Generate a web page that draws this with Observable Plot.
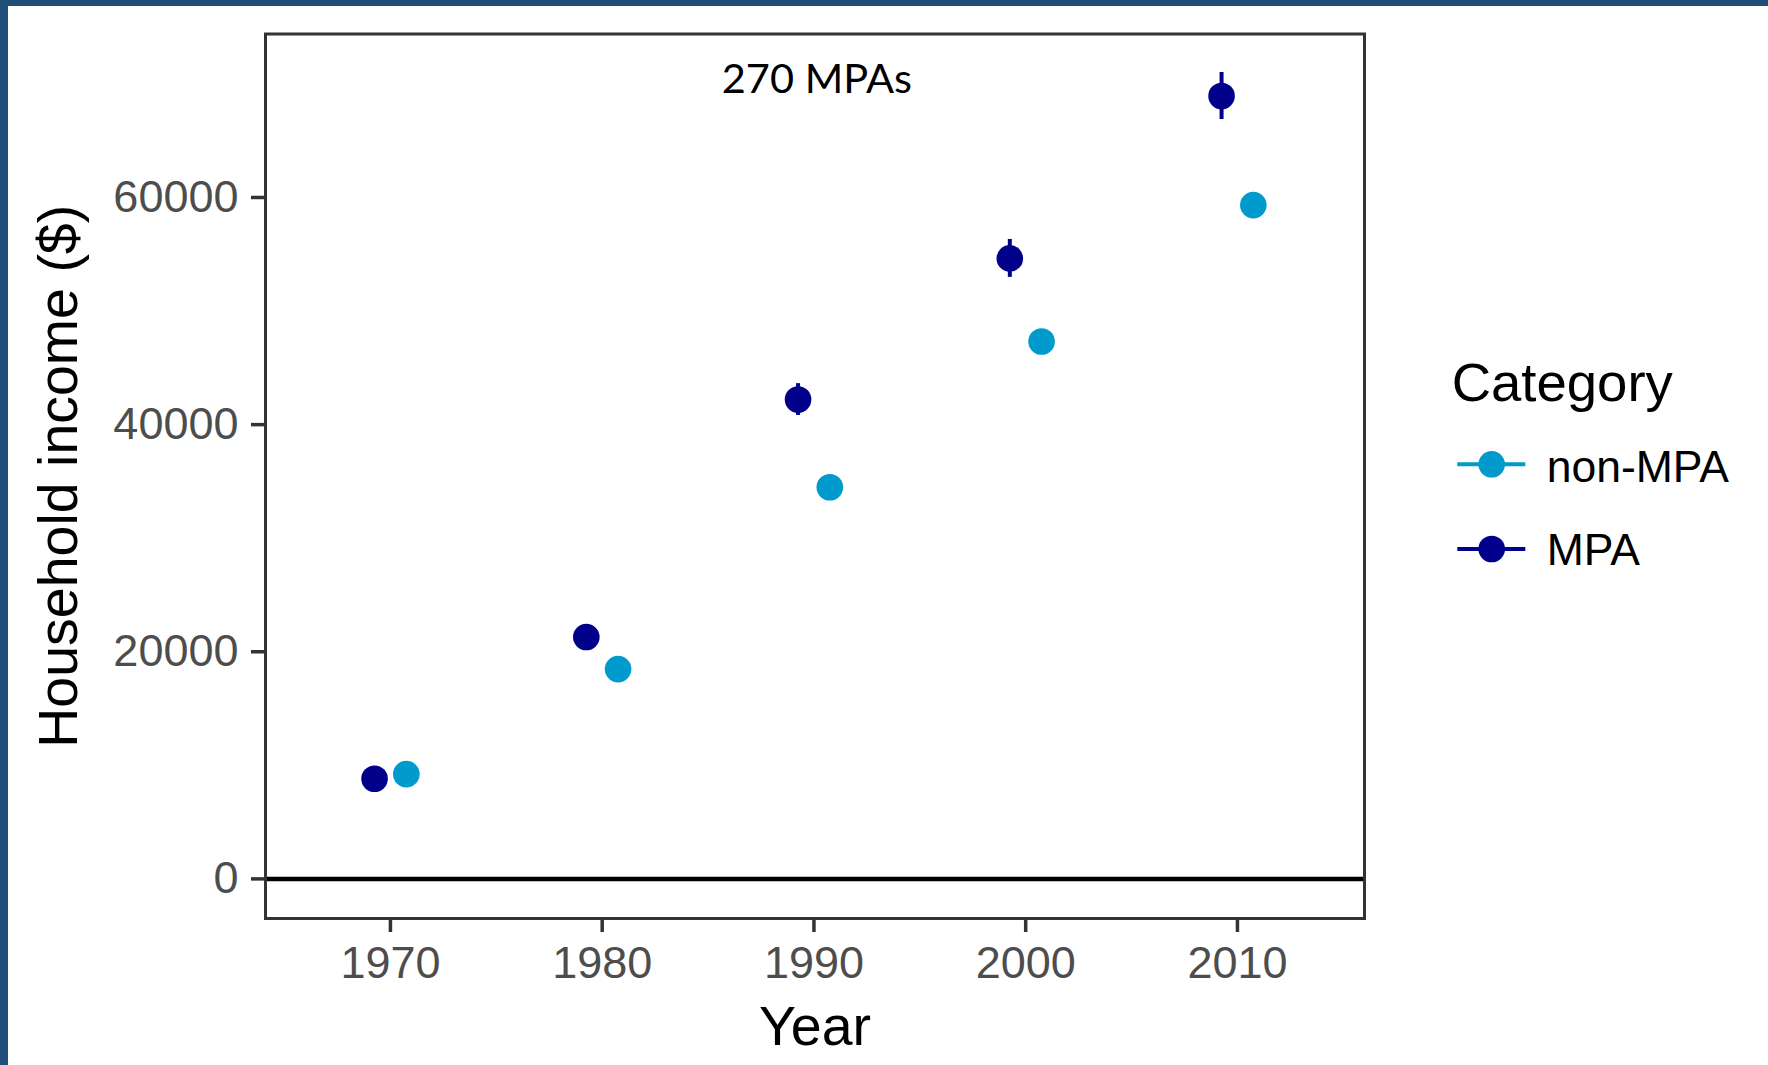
<!DOCTYPE html>
<html>
<head>
<meta charset="utf-8">
<script src="https://cdn.jsdelivr.net/npm/d3@7"></script>
<script src="https://cdn.jsdelivr.net/npm/@observablehq/plot@0.6"></script>
<style>
  html, body { margin: 0; padding: 0; background: #ffffff; }
  #page { position: relative; width: 1768px; height: 1065px; background: #ffffff; overflow: hidden; }
  #bar-left { position: absolute; left: 0; top: 0; width: 8px; height: 1065px; background: #1F4E79; }
  #bar-top { position: absolute; left: 0; top: 0; width: 1768px; height: 6px; background: #1F4E79; }
  #chart { position: absolute; left: 8px; top: 6px; }
  #legend { position: absolute; left: 1430px; top: 340px; }
</style>
</head>
<body>
<div id="page">
  <div id="bar-left"></div>
  <div id="bar-top"></div>
  <div id="chart"></div>
  <div id="legend"></div>
</div>
<script>
// ---- data ----
const years = [1970, 1980, 1990, 2000, 2010];
const categories = ["non-MPA", "MPA"];
const mpaIncome = [8820, 21295, 42210, 54635, 68935];
const mpaError = [350, 500, 1400, 1670, 2070];
const nonMpaIncome = [9225, 18475, 34485, 47320, 59330];
const nonMpaError = [150, 250, 400, 500, 700];
const xTicks = [1970, 1980, 1990, 2000, 2010];
const yTicks = [0, 20000, 40000, 60000];
const annotation = "270 MPAs";
const annotationYear = 1990;

const colors = ["#009ACD", "#00008B"];
const dodge = {"MPA": -0.75, "non-MPA": 0.75};

const rows = years.flatMap((year, i) => [
  {year, category: "MPA", income: mpaIncome[i], err: mpaError[i]},
  {year, category: "non-MPA", income: nonMpaIncome[i], err: nonMpaError[i]}
]);
const xPos = d => d.year + dodge[d.category];

const FONT = "'Liberation Sans', Arial, sans-serif";

const plot = Plot.plot({
  width: 1760,
  height: 1059,
  marginLeft: 257,
  marginRight: 404,
  marginTop: 27.5,
  marginBottom: 147,
  style: {fontFamily: FONT, fontSize: "44px", background: "white", color: "black", overflow: "visible"},
  x: {domain: [1964.1, 2016.0]},
  y: {domain: [-3487, 74395]},
  color: {domain: categories, range: colors},
  marks: [
    Plot.ruleY([0], {stroke: "black", strokeWidth: 4.5}),
    Plot.ruleX(rows, {x: xPos, y1: d => d.income - d.err, y2: d => d.income + d.err, stroke: "category", strokeWidth: 4}),
    Plot.dot(rows, {x: xPos, y: "income", fill: "category", r: 13.3}),
    Plot.text([{label: annotation, year: annotationYear}], {
      x: "year", text: "label", frameAnchor: "top", lineAnchor: "bottom",
      dy: 58.8, dx: 3, fontFamily: "Lato, 'Open Sans', sans-serif", fontSize: 41.5, fill: "black"
    }),
    // tick marks + tick labels
    Plot.axisX({ticks: xTicks, tickFormat: d3.format("d"), tickSize: 14, tickPadding: 14,
      strokeWidth: 3.5, stroke: "#333333", fill: "#4D4D4D", fontSize: 45, label: null}),
    Plot.axisY({ticks: yTicks, tickFormat: d3.format("d"), tickSize: 14, tickPadding: 13,
      strokeWidth: 3.5, stroke: "#333333", fill: "#4D4D4D", fontSize: 45, label: null}),
    // axis titles
    Plot.axisX({ticks: [], tickSize: 0, label: "Year", labelAnchor: "center", labelOffset: 126,
      labelArrow: "none", fill: "black", fontSize: 55.5}),
    Plot.axisY({ticks: [], tickSize: 0, label: "Household income ($)", labelAnchor: "center",
      labelOffset: 228, labelArrow: "none", fill: "black", fontSize: 55.5}),
    Plot.frame({stroke: "#333333", strokeWidth: 3})
  ]
});
document.getElementById("chart").appendChild(plot);

// ---- legend (right side) ----
const colorScale = plot.scale("color");
const lg = d3.select("#legend").append("svg")
  .attr("width", 338).attr("height", 260)
  .style("font-family", FONT);
lg.append("text").attr("x", 21.7).attr("y", 61).attr("font-size", 54.5).attr("fill", "black").text("Category");
categories.forEach((c, i) => {
  const cy = [124.3, 209][i];
  const col = colorScale.apply(c);
  lg.append("line").attr("x1", 27.3).attr("x2", 95.3).attr("y1", cy).attr("y2", cy)
    .attr("stroke", col).attr("stroke-width", 4);
  lg.append("circle").attr("cx", 61.7).attr("cy", cy).attr("r", 13.3).attr("fill", col);
  lg.append("text").attr("x", 116.7).attr("y", [141.7, 225][i]).attr("font-size", 44.5)
    .attr("fill", "black").text(c);
});
</script>
</body>
</html>
